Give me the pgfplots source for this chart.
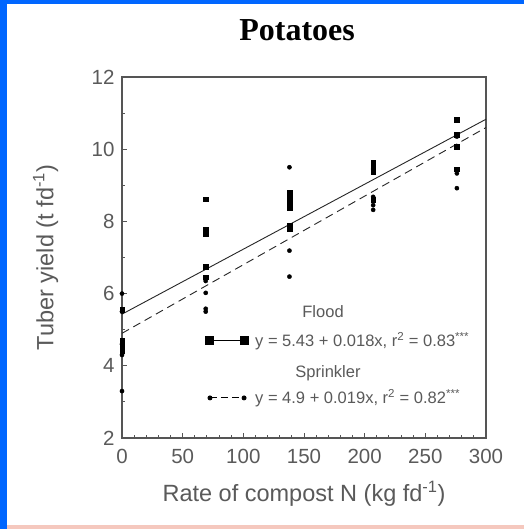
\documentclass[border=0pt]{standalone}
\usepackage{pgfplots}
\pgfplotsset{compat=1.18}
\usepackage{fontspec}
\setmainfont{Liberation Sans}
\newfontfamily\titlefont{Liberation Serif}
\definecolor{frameblue}{RGB}{0,102,255}
\definecolor{axgray}{RGB}{85,85,85}
\definecolor{txtgray}{RGB}{90,90,90}
\definecolor{pinkline}{RGB}{245,200,190}
\begin{document}
\begin{tikzpicture}[x=1pt,y=1pt]
\fill[white] (0,0) rectangle (524,529);
\useasboundingbox (0,0) rectangle (524,529);
\fill[frameblue] (0,0) rectangle (7,529);
\fill[frameblue] (0,525) rectangle (524,529);
\fill[pinkline] (7,0) rectangle (524,4);
\begin{axis}[
  at={(122pt,91pt)}, anchor=south west,
  width=364pt, height=361pt, scale only axis,
  xmin=0, xmax=300, ymin=2, ymax=12,
  xtick={0,50,...,300}, minor x tick num=4,
  ytick={2,4,...,12}, minor y tick num=1,
  tick pos=left, tick align=inside,
  major tick length=5pt, minor tick length=3pt,
  axis line style={axgray, line width=1.3pt},
  every tick/.style={axgray, line width=1pt},
  /pgf/number format/assume math mode=true,
  ticklabel style={font=\fontsize{20.5}{20.5}\selectfont, text=txtgray},
  xticklabel style={yshift=-8pt},
  yticklabel style={xshift=-4pt},
  label style={font=\fontsize{23.5}{23.5}\selectfont, text=txtgray},
  xlabel={Rate of compost N (kg fd\textsuperscript{-1})},
  ylabel={Tuber yield (t fd\textsuperscript{-1})},
  xlabel style={at={(axis description cs:0.5,-0.155)}, anchor=center},
  ylabel style={at={(axis description cs:-0.21,0.5)}, anchor=center},
  title={\titlefont\bfseries Potatoes},
  title style={at={(axis description cs:0.481,1.112)}, anchor=center, font=\fontsize{32}{32}\selectfont, text=black},
  clip=false,
]
% regression lines
\addplot[black!85, line width=0.9pt] coordinates {(0,5.43) (300,10.83)};
\addplot[black!85, line width=0.9pt, dash pattern=on 8pt off 5pt] coordinates {(0,4.9) (300,10.6)};
% Flood data
\addplot[only marks, mark=square*, mark size=2.3pt, black] coordinates {
(0,5.55) (0,4.7) (0,4.55) (0,4.4)
(69,8.62) (69,7.78) (69,7.65) (69,6.75) (69,6.45)
(138,8.8) (138,8.65) (138,8.5) (138,8.38) (138,7.9) (138,7.78)
(207,9.64) (207,9.5) (207,9.38) (207,8.6)
(276,10.81) (276,10.4) (276,10.07) (276,9.45)
};
% Sprinkler data
\addplot[only marks, mark=*, mark size=2.1pt, black] coordinates {
(0,6.0) (0,5.5) (0,4.6) (0,4.3) (0,3.3)
(69,6.35) (69,6.02) (69,5.58) (69,5.5)
(138,9.5) (138,8.7) (138,7.19) (138,6.47)
(207,9.45) (207,8.68) (207,8.45) (207,8.32)
(276,10.35) (276,9.33) (276,8.92)
};
% legend samples
\addplot[black, line width=1pt, mark=square*, mark size=4pt] coordinates {(72.5,4.69) (100.6,4.69)};
\addplot[black, line width=0.9pt, dash pattern=on 7pt off 4pt, mark=*, mark size=2pt, mark options={solid}] coordinates {(72.5,3.11) (100.6,3.11)};
\node[font=\fontsize{16.5}{16.5}\selectfont, text=txtgray] at (axis cs:165.7,5.49) {Flood};
\node[font=\fontsize{16.5}{16.5}\selectfont, text=txtgray, anchor=west, inner sep=0pt] at (axis cs:109.6,4.69) {y = 5.43 + 0.018x, r\textsuperscript{2} = 0.83\textsuperscript{***}};
\node[font=\fontsize{16.5}{16.5}\selectfont, text=txtgray] at (axis cs:169.8,3.80) {Sprinkler};
\node[font=\fontsize{16.5}{16.5}\selectfont, text=txtgray, anchor=west, inner sep=0pt] at (axis cs:109.6,3.11) {y = 4.9 + 0.019x, r\textsuperscript{2} = 0.82\textsuperscript{***}};
\end{axis}
\end{tikzpicture}
\end{document}
